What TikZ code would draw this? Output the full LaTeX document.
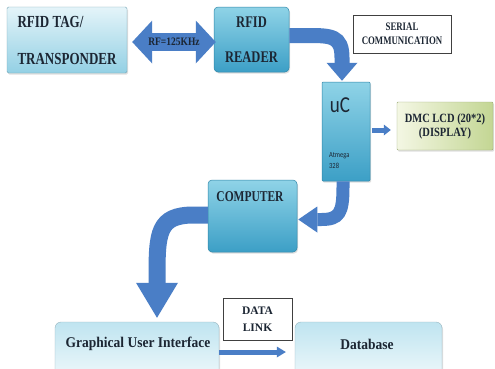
\documentclass[tikz,border=0pt]{standalone}
\usepackage{fontspec}
\usepackage{graphicx}
\setmainfont{Liberation Serif}
\newfontfamily\chipfont{Carlito}
\usetikzlibrary{arrows.meta,shadows,calc}
\definecolor{arrowblue}{HTML}{4A7EC6}
\definecolor{tealtop}{HTML}{8FD3E7}
\definecolor{tealbot}{HTML}{3C9FC6}
\definecolor{tealedge}{HTML}{2F86A8}
\definecolor{lighttop}{HTML}{E4F4F9}
\definecolor{lightbot}{HTML}{93D0E4}
\definecolor{paletop}{HTML}{BFE4F0}
\definecolor{palebot}{HTML}{EEF8FB}
\definecolor{lcdleft}{HTML}{F4F7E4}
\definecolor{lcdright}{HTML}{C3D693}
\definecolor{ink}{HTML}{1C2633}
\newcommand{\stx}[2][1.3]{\scalebox{1}[#1]{#2}}
\begin{document}
\begin{tikzpicture}[x=1pt,y=-1pt,
  shadowed/.style={drop shadow={opacity=0.25,shadow xshift=1pt,shadow yshift=-1.5pt}},
  basebox/.style={shadowed, rectangle, text=ink, align=center, inner sep=0pt},
  tealbox/.style={basebox, rounded corners=4pt, top color=tealtop, bottom color=tealbot, draw=tealedge, line width=0.5pt},
  tagbox/.style={basebox, rounded corners=1.5pt, top color=lighttop, bottom color=lightbot, draw=lightbot!80!black, line width=0.4pt},
  palebox/.style={basebox, rounded corners=6pt, top color=paletop, bottom color=palebot, draw=paletop!80!black, line width=0.4pt},
  lcdbox/.style={basebox, rounded corners=1pt, left color=lcdleft, right color=lcdright, draw=lcdright!80!black, line width=0.4pt},
  notebox/.style={rectangle, fill=white, draw=black!75, line width=0.8pt, text=ink, align=center, inner sep=0pt},
  label/.style={text=ink, inner sep=0pt},
  flow/.style={color=arrowblue}
]
\clip (0,0) rectangle (495,368);
\fill[white] (0,0) rectangle (495,368);

% boxes
\node[tagbox, align=left, minimum width=120pt, minimum height=66pt, font=\bfseries\fontsize{13}{15}\selectfont] (tag) at (67,40) {\stx{RFID TAG/}\\[22pt]\stx{TRANSPONDER}};
\node[tealbox, minimum width=75pt, minimum height=65pt, font=\bfseries\fontsize{12.5}{15}\selectfont] (reader) at (251.5,39.5) {\stx{RFID}\\[19.5pt]\stx{READER}};
\node[notebox, minimum width=98pt, minimum height=38pt, font=\bfseries\fontsize{8.8}{14}\selectfont] (serial) at (402,34) {\stx{SERIAL}\\\stx{COMMUNICATION}};
\node[tealbox, rounded corners=1pt, minimum width=48pt, minimum height=99pt] (uc) at (346,131.5) {};
\node[label, font=\chipfont\fontsize{19}{19}\selectfont] (uctext) at (340,105) {\stx[1.2]{uC}};
\node[label, anchor=west, align=left, font=\chipfont\fontsize{6.5}{11}\selectfont] (ucchip) at (329,161) {\stx[1.2]{Atmega}\\\stx[1.2]{328}};
\node[lcdbox, minimum width=96pt, minimum height=48pt, font=\bfseries\fontsize{10.5}{14}\selectfont] (lcd) at (445,126) {\stx[1.2]{DMC LCD (20*2)}\\\stx[1.2]{(DISPLAY)}};
\node[tealbox, minimum width=89pt, minimum height=72pt] (comp) at (252.5,216) {};
\node[label, font=\bfseries\fontsize{11.5}{14}\selectfont] (comptext) at (250,197) {\stx{COMPUTER}};
\node[notebox, minimum width=69pt, minimum height=42pt, font=\bfseries\fontsize{11.5}{17}\selectfont] (datalink) at (257.5,319) {DATA\\LINK};
\node[palebox, minimum width=164pt, minimum height=56pt] (gui) at (137,350) {};
\node[label, font=\bfseries\fontsize{13.5}{14}\selectfont] (guitext) at (138,344) {\stx[1.1]{Graphical User Interface}};
\node[palebox, minimum width=147pt, minimum height=56pt] (db) at (368.5,350) {};
\node[label, font=\bfseries\fontsize{13.5}{14}\selectfont] (dbtext) at (367,344) {\stx[1.1]{Database}};

% connectors
\draw[flow, line width=18pt, {Triangle[length=20pt,width=43pt,line width=0pt]}-{Triangle[length=20pt,width=43pt,line width=0pt]}]
  ([xshift=5pt,yshift=-2pt]tag.east) -- ([xshift=2pt,yshift=-2.5pt]reader.west)
  node[midway, text=ink, inner sep=0pt, font=\bfseries\fontsize{9.5}{10}\selectfont] (rf) {\stx[1.2]{RF=125KHz}};

\draw[flow, line width=15pt, -{Triangle[length=18pt,width=31pt,line width=0pt]}]
  ([yshift=4pt]reader.east) -- ++(18,0) .. controls +(24,0) and +(0,-22) .. ([xshift=-4pt,yshift=24pt]uc.north) -- ([xshift=-4pt,yshift=1pt]uc.north);

\draw[flow, line width=5pt, -{Triangle[length=7pt,width=11pt,line width=0pt]}]
  ([xshift=2pt,yshift=1.5pt]uc.east) -- ($(lcd.west |- uc.east)+(-6,-1.5)$);

\draw[flow, line width=13pt, -{Triangle[length=19pt,width=26pt,line width=0pt]}]
  ([xshift=-3pt]uc.south) -- ++(0,6) .. controls +(0,26) and +(18,0) .. ([xshift=24pt,yshift=-3.5pt]comp.east) -- ([xshift=1pt,yshift=-3.5pt]comp.east);

\draw[flow, line width=17pt, -{Triangle[length=35pt,width=42pt,line width=0pt]}]
  ([yshift=1pt]comp.west) -- ++(-14,0) .. controls +(-36,0) and +(0,-45) .. ([xshift=20pt,yshift=44pt]gui.north) -- ([xshift=20pt,yshift=4pt]gui.north);

\draw[flow, line width=5pt, -{Triangle[length=9pt,width=11pt,line width=0pt]}]
  ([yshift=-2pt]gui.east) -- ([xshift=-9pt,yshift=-2pt]db.west);
\end{tikzpicture}
\end{document}
